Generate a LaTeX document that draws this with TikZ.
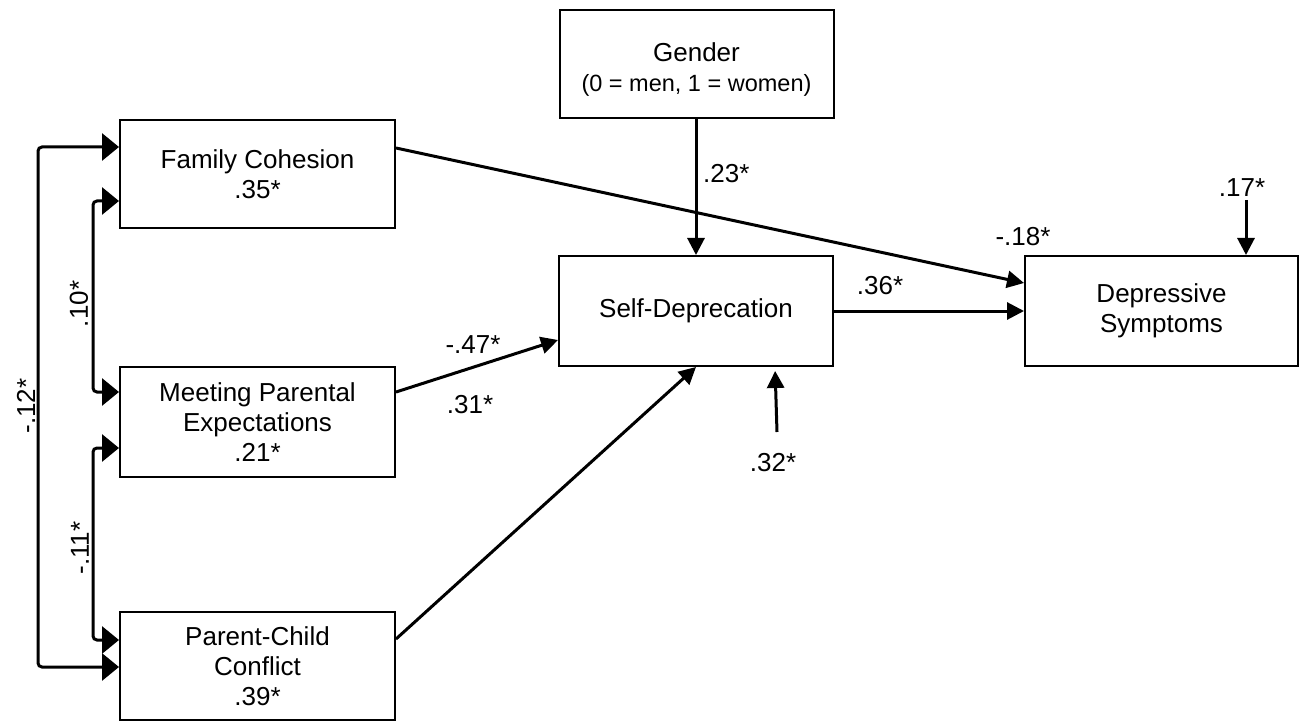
\documentclass[tikz,border=0pt]{standalone}
\usepackage{fontspec}
\setmainfont{Liberation Sans}
\usetikzlibrary{arrows.meta}
\begin{document}
\begin{tikzpicture}[x=1pt,y=-1pt,
  box/.style={draw, line width=2pt, rectangle, align=center, inner sep=0pt, font=\fontsize{26}{30}\selectfont},
  lbl/.style={font=\fontsize{26}{30}\selectfont, inner sep=0pt},
  patharrow/.style={line width=3pt, -{Triangle[length=17pt,width=17pt]}},
  cov/.style={line width=3pt, {Triangle[length=17pt,width=27pt]}-{Triangle[length=17pt,width=27pt]}, rounded corners=4pt},
]
\useasboundingbox (0,0) rectangle (1299,722);

\node[box, minimum width=275pt, minimum height=108pt] (fc) at (257.5,174) {Family Cohesion\\.35*};
\node[box, minimum width=275pt, minimum height=110pt] (mpe) at (257.5,422) {Meeting Parental\\Expectations\\.21*};
\node[box, minimum width=275pt, minimum height=108pt] (pcc) at (257.5,666) {Parent-Child\\Conflict\\.39*};
\node[box, minimum width=274pt, minimum height=108pt] (gen) at (696.5,64) {\rule{0pt}{29pt}Gender\\{\fontsize{23.5}{30}\selectfont (0 = men, 1 = women)}};
\node[box, minimum width=274pt, minimum height=110pt] (sd) at (696,311) {Self-Deprecation};
\node[box, minimum width=273pt, minimum height=110pt] (ds) at (1161.5,311) {Depressive\\Symptoms};

% structural paths
\draw[patharrow] (sd.north |- gen.south) -- (sd.north);
\draw[patharrow] ([yshift=26pt]fc.east) -- ([yshift=28pt]ds.west);
\draw[patharrow] (sd.east) -- (ds.west);
\draw[patharrow] ([yshift=30pt]mpe.east) -- ([yshift=-29pt]sd.west);
\draw[patharrow] ([yshift=27pt]pcc.east) -- (sd.south);

% residuals
\coordinate (r1) at (777,432);
\draw[patharrow, shorten >=4pt] (r1) -- ([xshift=79pt]sd.south);
\coordinate (r2) at (1246,200);
\draw[patharrow] (r2) -- (r2 |- ds.north);

% covariances
\coordinate (cl) at (38,400);
\coordinate (ci1) at (93,300);
\coordinate (ci2) at (93,540);
\draw[cov] ([yshift=27pt]fc.west) -| (cl) |- ([yshift=-1pt]pcc.west);
\draw[cov] ([yshift=-27pt]fc.west) -| (ci1) |- ([yshift=30pt]mpe.west);
\draw[cov] ([yshift=-26pt]mpe.west) -| (ci2) |- ([yshift=26pt]pcc.west);

% labels
\node[lbl, anchor=west] (l23) at (703,174) {.23*};
\node[lbl] (l17) at (1242,188) {.17*};
\node[lbl] (l18) at (1023,237) {-.18*};
\node[lbl] (l36) at (880,286) {.36*};
\node[lbl] (l47) at (473,345) {-.47*};
\node[lbl] (l31) at (470,405) {.31*};
\node[lbl] (l32) at (773,463) {.32*};
\node[lbl, rotate=90] (l12) at (26,406) {-.12*};
\node[lbl, rotate=90] (l10) at (79,304) {.10*};
\node[lbl, rotate=90] (l11) at (80,548) {-.11*};
\end{tikzpicture}
\end{document}
